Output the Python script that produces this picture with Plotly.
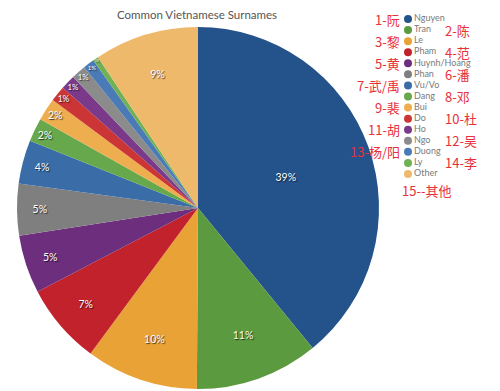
import plotly.graph_objects as go

names = ["Nguyen", "Tran", "Le", "Pham", "Huynh/Hoang", "Phan", "Vu/Vo", "Dang",
         "Bui", "Do", "Ho", "Ngo", "Duong", "Ly", "Other"]
shares = [39.0, 11.0, 10.0, 7.2, 5.2, 4.6, 3.9, 2.1, 2.0, 1.4, 1.3, 1.3, 1.0, 0.5, 9.3]
cn_labels = ["1-阮", "2-陈", "3-黎", "4-范", "5-黄", "6-潘", "7-武/禹", "8-邓",
             "9-裴", "10-杜", "11-胡", "12-吴", "13-杨/阳", "14-李"]
cn_other = "15--其他"
colors = ["#24538b", "#5b9a3f", "#e9a235", "#c1222b", "#6d2f7d", "#7f7f7f", "#3a6da8",
          "#67a84c", "#eeae4f", "#cc3535", "#7a3a89", "#8b8b8b", "#4a7bb6", "#70b156", "#efb96b"]

W, H = 500, 391
OFF = 8  # page body margin offset


def px(x):
    return (x - OFF) / W


def py(y):
    return 1 - (y - OFF) / H


fig = go.Figure()
fig.add_trace(go.Pie(
    labels=names, values=shares, sort=False, direction="clockwise", rotation=0,
    marker=dict(colors=colors, line=dict(width=0)),
    textinfo="percent", texttemplate="%{percent:.0%}",
    textposition="inside", insidetextorientation="horizontal",
    textfont=dict(family="Lato", size=10.5, color="white", shadow="1px 1px 1px rgba(0,0,0,0.7)"),
    domain=dict(x=[px(17), px(379)], y=[py(389), py(27)]),
    showlegend=False, hoverinfo="label+percent",
))

idx = list(range(len(names)))
fig.add_trace(go.Scatter(
    x=[0] * len(names), y=idx, mode="markers+text",
    marker=dict(color=colors, size=8, symbol="circle"),
    text=names, textposition="middle right",
    textfont=dict(family="Lato", size=9, color="#7a7a7a"),
    xaxis="x2", yaxis="y2", showlegend=False, cliponaxis=False, hoverinfo="skip",
))

cjk_font = dict(family="Noto Sans CJK SC", size=13, color="#e8303a")
annotations = []
for i, lab in enumerate(cn_labels):
    left_side = (i % 2 == 0)
    annotations.append(dict(
        x=0, y=i, xref="x2", yref="y2", text=lab, showarrow=False,
        xanchor="right" if left_side else "left",
        xshift=-6 if left_side else 35,
        font=cjk_font,
    ))
annotations.append(dict(
    x=px(400), y=py(190), xref="paper", yref="paper", text=cn_other, showarrow=False,
    xanchor="left", yanchor="middle", font=cjk_font,
))

fig.update_layout(
    width=W, height=H,
    margin=dict(l=0, r=0, t=0, b=0),
    paper_bgcolor="white", plot_bgcolor="rgba(0,0,0,0)",
    title=dict(text="Common Vietnamese Surnames", x=px(197), xanchor="center",
               y=py(15), yanchor="middle",
               font=dict(family="Lato", size=11.5, color="#555555")),
    xaxis2=dict(domain=[px(408), px(450)], range=[0, 1], visible=False, fixedrange=True),
    yaxis2=dict(domain=[py(174), py(19)], range=[14, 0], visible=False,
                fixedrange=True, anchor="x2"),
    annotations=annotations,
)

fig.write_html("out.html")
